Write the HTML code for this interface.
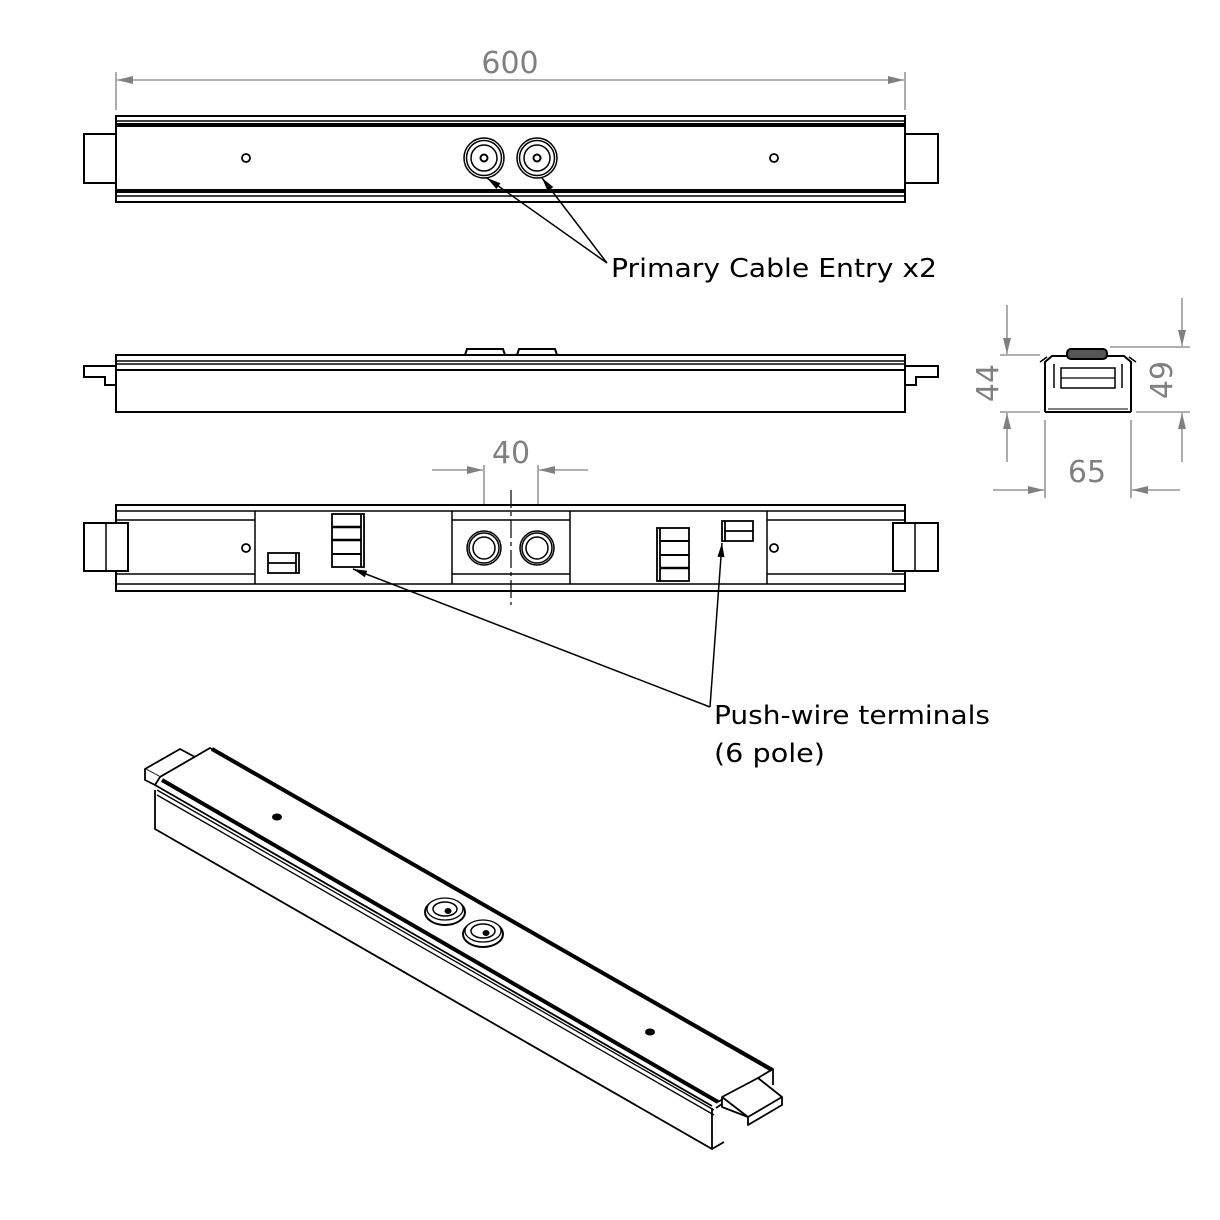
<!DOCTYPE html>
<html><head><meta charset="utf-8"><style>
html,body{margin:0;padding:0;background:#fff;}
svg{display:block;}
.t{font-family:"DejaVu Sans","Liberation Sans",sans-serif;}
</style></head><body>
<svg width="1220" height="1220" viewBox="0 0 1220 1220" xmlns="http://www.w3.org/2000/svg">
<defs>
<marker id="ag" viewBox="0 0 12 6" refX="12" refY="3" markerWidth="24" markerHeight="8" markerUnits="userSpaceOnUse" orient="auto"><path d="M0,0 L12,3 L0,6 z" fill="#808080"/></marker>
<marker id="ab" viewBox="0 0 12 6" refX="12" refY="3" markerWidth="20" markerHeight="7" markerUnits="userSpaceOnUse" orient="auto"><path d="M0,0 L12,3 L0,6 z" fill="#000"/></marker>
</defs>
<rect width="1220" height="1220" fill="#fff"/>

<!-- 600 dimension -->
<g stroke="#808080" stroke-width="1.3" fill="none">
<line x1="116" y1="72" x2="116" y2="110"/><line x1="905" y1="72" x2="905" y2="110"/>
<line x1="510" y1="80" x2="117" y2="80" marker-end="url(#ag)"/>
<line x1="510" y1="80" x2="904" y2="80" marker-end="url(#ag)"/>
</g>
<text x="510" y="73" class="t" font-size="30" fill="#808080" text-anchor="middle">600</text>

<!-- TOP VIEW -->
<g stroke="#000" stroke-width="2" fill="#fff">
<rect x="84" y="134" width="32" height="49"/>
<rect x="905" y="134" width="33" height="49"/>
<rect x="116" y="116" width="789" height="86"/>
</g>
<g stroke="#000" fill="none">
<line x1="116" y1="121" x2="905" y2="121" stroke-width="1.5"/>
<rect x="116" y="123" width="789" height="4" fill="#000" stroke="none"/>
<rect x="116" y="189" width="789" height="4" fill="#000" stroke="none"/>
<line x1="116" y1="196" x2="905" y2="196" stroke-width="1.5"/>
<circle cx="246" cy="158" r="4" stroke-width="1.8"/>
<circle cx="774" cy="158" r="4" stroke-width="1.8"/>
<g stroke-width="1.5">
<circle cx="484" cy="158" r="20"/><circle cx="484" cy="158" r="17.5"/><circle cx="484" cy="158" r="13"/><circle cx="484" cy="158" r="3.5" stroke-width="2"/>
<circle cx="537" cy="158" r="20"/><circle cx="537" cy="158" r="17.5"/><circle cx="537" cy="158" r="13"/><circle cx="537" cy="158" r="3.5" stroke-width="2"/>
</g>
<line x1="607" y1="263" x2="487" y2="178" stroke-width="1.5" marker-end="url(#ab)"/>
<line x1="607" y1="263" x2="542" y2="178" stroke-width="1.5" marker-end="url(#ab)"/>
</g>
<text x="611" y="277" class="t" font-size="26" fill="#000" textLength="326" lengthAdjust="spacingAndGlyphs">Primary Cable Entry x2</text>

<!-- SIDE VIEW -->
<g stroke="#000" stroke-width="2" fill="#fff">
<path d="M465,355 L467,349 L503,349 L505,355 Z"/>
<path d="M517,355 L519,349 L555,349 L557,355 Z"/>
<path d="M116,366 L84,366 L84,377 L105,377 L105,385 L116,385"/>
<path d="M905,366 L938,366 L938,377 L916,377 L916,385 L905,385"/>
<rect x="116" y="355" width="789" height="57"/>
<line x1="116" y1="361" x2="905" y2="361" stroke-width="1.5"/>
<line x1="116" y1="364" x2="905" y2="364" stroke-width="1.5"/>
<line x1="116" y1="370" x2="905" y2="370"/>
</g>

<!-- END VIEW -->
<g stroke="#808080" stroke-width="1.3" fill="none">
<line x1="1000" y1="355" x2="1040" y2="355"/><line x1="1000" y1="412" x2="1040" y2="412"/>
<line x1="1007" y1="305" x2="1007" y2="354" marker-end="url(#ag)"/>
<line x1="1007" y1="462" x2="1007" y2="413" marker-end="url(#ag)"/>
<line x1="1110" y1="347" x2="1190" y2="347"/><line x1="1136" y1="412" x2="1190" y2="412"/>
<line x1="1182" y1="298" x2="1182" y2="346" marker-end="url(#ag)"/>
<line x1="1182" y1="462" x2="1182" y2="413" marker-end="url(#ag)"/>
<line x1="1045" y1="420" x2="1045" y2="498"/><line x1="1131" y1="420" x2="1131" y2="498"/>
<line x1="993" y1="490" x2="1044" y2="490" marker-end="url(#ag)"/>
<line x1="1180" y1="490" x2="1132" y2="490" marker-end="url(#ag)"/>
</g>
<text transform="translate(998,383) rotate(-90)" class="t" font-size="30" fill="#808080" text-anchor="middle">44</text>
<text transform="translate(1172,380) rotate(-90)" class="t" font-size="30" fill="#808080" text-anchor="middle">49</text>
<text x="1087" y="482" class="t" font-size="30" fill="#808080" text-anchor="middle">65</text>
<g stroke="#000" stroke-width="2" fill="none">
<path d="M1045,412 L1045,362 L1052,356 L1124,356 L1131,362 L1131,412"/>
<line x1="1045" y1="412" x2="1131" y2="412"/>
<line x1="1048" y1="409" x2="1128" y2="409" stroke-width="1"/>
<rect x="1067" y="349" width="40" height="10" rx="4" fill="#555"/>
<rect x="1061" y="368" width="54" height="20" stroke-width="1.5"/>
<line x1="1061" y1="378" x2="1115" y2="378" stroke-width="1.3"/>
<line x1="1054" y1="364" x2="1054" y2="388" stroke-width="1.5"/>
<line x1="1122" y1="364" x2="1122" y2="388" stroke-width="1.5"/>
<path d="M1040,362 L1047,357 M1136,362 L1129,357" stroke-width="1.5"/>
</g>

<!-- 40 dimension -->
<g stroke="#808080" stroke-width="1.3" fill="none">
<line x1="484" y1="465" x2="484" y2="530"/><line x1="538" y1="465" x2="538" y2="530"/>
<line x1="432" y1="470" x2="483" y2="470" marker-end="url(#ag)"/>
<line x1="588" y1="470" x2="539" y2="470" marker-end="url(#ag)"/>
</g>
<text x="511" y="463" class="t" font-size="30" fill="#808080" text-anchor="middle">40</text>

<!-- BOTTOM VIEW -->
<g stroke="#000" stroke-width="2" fill="#fff">
<rect x="116" y="505" width="789" height="86"/>
</g>
<g stroke="#000" fill="none">
<line x1="116" y1="511" x2="905" y2="511" stroke-width="1.5"/>
<line x1="116" y1="584" x2="905" y2="584" stroke-width="1.5"/>
<line x1="116" y1="520" x2="255" y2="520" stroke-width="1.5"/>
<line x1="116" y1="574" x2="255" y2="574" stroke-width="1.5"/>
<line x1="767" y1="520" x2="905" y2="520" stroke-width="1.5"/>
<line x1="767" y1="574" x2="905" y2="574" stroke-width="1.5"/>
<line x1="452" y1="520" x2="570" y2="520" stroke-width="1.5"/>
<line x1="452" y1="574" x2="570" y2="574" stroke-width="1.5"/>
<line x1="255" y1="511" x2="255" y2="584" stroke-width="1.5"/>
<line x1="452" y1="511" x2="452" y2="584" stroke-width="1.5"/>
<line x1="570" y1="511" x2="570" y2="584" stroke-width="1.5"/>
<line x1="767" y1="511" x2="767" y2="584" stroke-width="1.5"/>
<rect x="84" y="523" width="44" height="48" fill="#fff" stroke-width="2"/><line x1="106" y1="523" x2="106" y2="571" stroke-width="1.5"/>
<rect x="893" y="523" width="45" height="48" fill="#fff" stroke-width="2"/><line x1="915" y1="523" x2="915" y2="571" stroke-width="1.5"/>
<circle cx="246" cy="548" r="4" stroke-width="1.8"/>
<circle cx="774" cy="548" r="4" stroke-width="1.8"/>
<g stroke-width="1.5">
<circle cx="484" cy="548" r="17"/><circle cx="484" cy="548" r="15"/><circle cx="484" cy="548" r="11"/>
<circle cx="537" cy="548" r="17"/><circle cx="537" cy="548" r="15"/><circle cx="537" cy="548" r="11"/>
</g>
<line x1="511" y1="490" x2="511" y2="605" stroke-width="1.2" stroke-dasharray="18,4,4,4"/>
<g stroke-width="1.8">
<rect x="332" y="514" width="32" height="53"/><line x1="361" y1="514" x2="361" y2="567"/>
<line x1="332" y1="527" x2="361" y2="527" stroke-width="2.5"/><line x1="332" y1="540" x2="361" y2="540" stroke-width="2.5"/><line x1="332" y1="554" x2="361" y2="554" stroke-width="2"/>
<rect x="268" y="553" width="31" height="20"/><line x1="296" y1="553" x2="296" y2="573"/><line x1="268" y1="563" x2="296" y2="563"/>
<rect x="657" y="528" width="32" height="53"/><line x1="660" y1="528" x2="660" y2="581"/>
<line x1="660" y1="541" x2="689" y2="541" stroke-width="2"/><line x1="660" y1="555" x2="689" y2="555" stroke-width="2"/><line x1="660" y1="568" x2="689" y2="568" stroke-width="2.5"/>
<rect x="722" y="521" width="31" height="20"/><line x1="725" y1="521" x2="725" y2="541"/><line x1="725" y1="531" x2="753" y2="531"/>
</g>
<line x1="710" y1="707" x2="353" y2="569" stroke-width="1.5" marker-end="url(#ab)"/>
<line x1="710" y1="707" x2="722" y2="543" stroke-width="1.5" marker-end="url(#ab)"/>
</g>
<text x="714" y="724" class="t" font-size="26" fill="#000" textLength="276" lengthAdjust="spacingAndGlyphs">Push-wire terminals</text>
<text x="714" y="762" class="t" font-size="26" fill="#000" textLength="111" lengthAdjust="spacingAndGlyphs">(6 pole)</text>

<!-- ISOMETRIC -->
<g stroke="#000" stroke-width="1.8" fill="#fff" stroke-linejoin="round">
<!-- left tab -->
<path d="M145,769 L180,749 L195,757 L160,777 Z"/>
<path d="M145,769 L145,780 L155,785 L160,777"/>
<!-- front face -->
<path d="M155,790 L155,829 L712,1149 L712,1108"/>
<!-- top face -->
<path d="M160,777 L210,748 L773,1069 L718,1102"/>
<line x1="157" y1="790" x2="714" y2="1110" stroke-width="1.3"/>
<line x1="157" y1="795" x2="714" y2="1115" stroke-width="1.3"/>
<line x1="212" y1="749" x2="772" y2="1070" stroke-width="4"/>
<line x1="162" y1="780" x2="718" y2="1102" stroke-width="4"/>
<line x1="155" y1="785" x2="712" y2="1106"/>
<!-- right end -->
<line x1="773" y1="1069" x2="773" y2="1085"/>
<line x1="712" y1="1149" x2="724" y2="1142"/>
<path d="M722,1107 L722,1097 L758,1078 L782,1097 L782,1105 L748,1125 L748,1117 L722,1107 Z"/>
<path d="M722,1097 L748,1117 L782,1097"/>
<line x1="716" y1="1108" x2="722" y2="1104"/>
</g>
<ellipse cx="277" cy="817" rx="5" ry="3.5" fill="#000"/>
<ellipse cx="650" cy="1032" rx="5" ry="3.5" fill="#000"/>
<g stroke="#000" fill="#fff">
<ellipse cx="445" cy="912" rx="20" ry="13" stroke-width="2"/>
<ellipse cx="445" cy="909" rx="18" ry="11" stroke-width="1.3"/>
<ellipse cx="445" cy="909" rx="12" ry="7" stroke-width="1.5"/>
<ellipse cx="448" cy="911" rx="3" ry="2.5" fill="#000"/>
<ellipse cx="483" cy="934" rx="20" ry="13" stroke-width="2"/>
<ellipse cx="483" cy="931" rx="18" ry="11" stroke-width="1.3"/>
<ellipse cx="483" cy="931" rx="12" ry="7" stroke-width="1.5"/>
<ellipse cx="486" cy="933" rx="3" ry="2.5" fill="#000"/>
</g>
</svg>
</body></html>
